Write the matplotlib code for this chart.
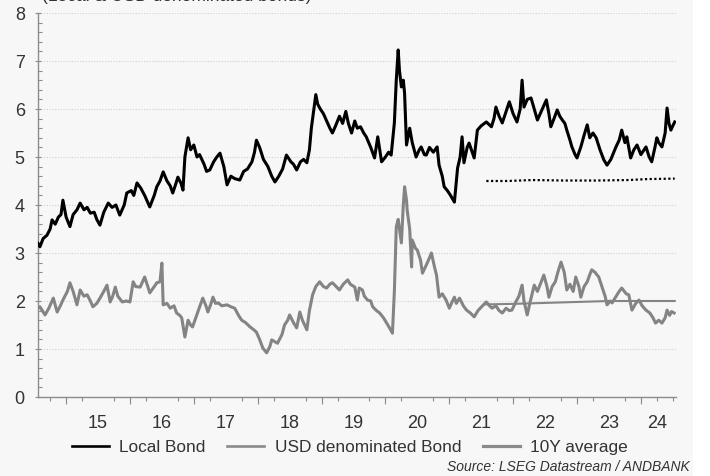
import matplotlib
matplotlib.use("Agg")
import matplotlib.pyplot as plt
from matplotlib.lines import Line2D
from matplotlib.patches import Rectangle

plt.rcParams['font.family'] = ['Liberation Sans', 'DejaVu Sans']

# ---------------- data (decimal years, yield %) ----------------
local_t = [2014.56, 2014.59, 2014.64, 2014.70, 2014.75, 2014.78, 2014.83, 2014.88, 2014.92, 2014.95,
           2015.00, 2015.06, 2015.11, 2015.17, 2015.22, 2015.28, 2015.33, 2015.38, 2015.44, 2015.48,
           2015.53, 2015.59, 2015.66, 2015.72, 2015.78, 2015.84, 2015.91, 2015.95,
           2016.02, 2016.06, 2016.11, 2016.17, 2016.23, 2016.31, 2016.38, 2016.42, 2016.47, 2016.52,
           2016.58, 2016.63, 2016.67, 2016.72, 2016.75, 2016.80, 2016.83, 2016.86, 2016.91, 2016.95,
           2017.00, 2017.05, 2017.09, 2017.16, 2017.20, 2017.25, 2017.31, 2017.36, 2017.41, 2017.47,
           2017.52, 2017.58, 2017.64, 2017.72, 2017.78, 2017.84, 2017.91, 2017.95, 2017.98,
           2018.03, 2018.09, 2018.16, 2018.22, 2018.27, 2018.33, 2018.39, 2018.45, 2018.52, 2018.56,
           2018.61, 2018.67, 2018.72, 2018.77, 2018.81, 2018.84, 2018.88, 2018.91, 2018.94, 2018.98,
           2019.03, 2019.08, 2019.13, 2019.17, 2019.22, 2019.28, 2019.33, 2019.38, 2019.42, 2019.47,
           2019.52, 2019.56, 2019.61, 2019.66, 2019.70, 2019.77, 2019.83, 2019.88, 2019.94,
           2020.00, 2020.05, 2020.09, 2020.14, 2020.17, 2020.20, 2020.22, 2020.25, 2020.28, 2020.30,
           2020.33, 2020.38, 2020.42, 2020.48, 2020.53, 2020.56, 2020.61, 2020.64, 2020.69, 2020.75,
           2020.81, 2020.84, 2020.89, 2020.92, 2020.97,
           2021.02, 2021.08, 2021.13, 2021.17, 2021.20, 2021.23, 2021.28, 2021.31, 2021.36, 2021.39,
           2021.44, 2021.50, 2021.58, 2021.66, 2021.70, 2021.73, 2021.78, 2021.83, 2021.89, 2021.94,
           2022.00, 2022.06, 2022.11, 2022.14, 2022.17, 2022.22, 2022.28, 2022.33, 2022.38, 2022.44,
           2022.52, 2022.56, 2022.59, 2022.64, 2022.69, 2022.73, 2022.77, 2022.81, 2022.84, 2022.89,
           2022.92, 2022.97,
           2023.00, 2023.06, 2023.11, 2023.16, 2023.20, 2023.25, 2023.30, 2023.36, 2023.42, 2023.47,
           2023.53, 2023.61, 2023.66, 2023.70, 2023.75, 2023.78, 2023.84, 2023.89, 2023.94,
           2024.00, 2024.08, 2024.13, 2024.17, 2024.22, 2024.25, 2024.28, 2024.33, 2024.38, 2024.41,
           2024.44, 2024.47, 2024.50, 2024.53]
local_v = [3.20, 3.13, 3.30, 3.37, 3.50, 3.69, 3.60, 3.75, 3.80, 4.10,
           3.75, 3.55, 3.80, 3.90, 4.04, 3.90, 3.95, 3.83, 3.85, 3.70,
           3.58, 3.85, 4.04, 3.95, 4.00, 3.79, 4.00, 4.25,
           4.30, 4.20, 4.46, 4.35, 4.20, 3.96, 4.20, 4.38, 4.50, 4.69,
           4.50, 4.40, 4.25, 4.45, 4.58, 4.45, 4.31, 5.00, 5.40, 5.15,
           5.25, 5.00, 5.05, 4.85, 4.70, 4.73, 4.90, 5.00, 5.08, 4.80,
           4.42, 4.60, 4.55, 4.52, 4.70, 4.75, 4.90, 5.10, 5.35,
           5.20, 4.95, 4.80, 4.60, 4.48, 4.60, 4.75, 5.04, 4.90, 4.85,
           4.73, 4.90, 4.95, 4.88, 5.15, 5.60, 6.00, 6.30, 6.10, 6.00,
           5.90, 5.75, 5.60, 5.50, 5.65, 5.85, 5.70, 5.95, 5.70, 5.50,
           5.75, 5.60, 5.63, 5.50, 5.42, 5.20, 4.98, 5.42, 4.90,
           5.00, 5.10, 5.04, 5.71, 6.60, 7.23, 6.80, 6.46, 6.60, 6.33,
           5.25, 5.60, 5.30, 5.00, 5.15, 5.21, 5.05, 5.04, 5.20, 5.10,
           5.21, 4.83, 4.60, 4.38, 4.30,
           4.20, 4.06, 4.77, 5.00, 5.42, 4.88, 5.20, 5.29, 5.10, 4.98,
           5.56, 5.65, 5.73, 5.63, 5.80, 6.04, 5.85, 5.71, 5.95, 6.15,
           5.90, 5.73, 6.00, 6.60, 6.04, 6.20, 6.23, 6.00, 5.77, 5.95,
           6.19, 5.90, 5.63, 5.80, 5.98, 5.85, 5.77, 5.70, 5.56, 5.35,
           5.21, 5.05,
           4.98, 5.21, 5.45, 5.67, 5.40, 5.50, 5.40, 5.15, 4.94, 4.83,
           4.95, 5.21, 5.35, 5.56, 5.30, 5.42, 4.98, 5.15, 5.25,
           5.05, 5.21, 5.00, 4.90, 5.20, 5.40, 5.30, 5.21, 5.50, 6.02,
           5.70, 5.56, 5.65, 5.73]

usd_t = [2014.56, 2014.59, 2014.67, 2014.73, 2014.80, 2014.86, 2014.91, 2014.95,
         2015.02, 2015.06, 2015.11, 2015.17, 2015.22, 2015.28, 2015.33, 2015.38, 2015.42, 2015.48,
         2015.53, 2015.59, 2015.64, 2015.69, 2015.73, 2015.77, 2015.81, 2015.88, 2015.94,
         2016.00, 2016.05, 2016.09, 2016.16, 2016.23, 2016.28, 2016.31, 2016.38, 2016.42, 2016.47,
         2016.50, 2016.52, 2016.58, 2016.63, 2016.69, 2016.73, 2016.78, 2016.81, 2016.86, 2016.91,
         2016.95, 2016.98,
         2017.03, 2017.06, 2017.11, 2017.14, 2017.19, 2017.22, 2017.27, 2017.30, 2017.34, 2017.38,
         2017.44, 2017.52, 2017.58, 2017.64, 2017.70, 2017.75, 2017.81, 2017.88, 2017.94, 2017.98,
         2018.03, 2018.08, 2018.14, 2018.19, 2018.22, 2018.27, 2018.31, 2018.38, 2018.42, 2018.47,
         2018.50, 2018.56, 2018.61, 2018.66, 2018.70, 2018.77, 2018.81, 2018.86, 2018.91, 2018.97,
         2019.03, 2019.08, 2019.13, 2019.17, 2019.23, 2019.28, 2019.34, 2019.41, 2019.45, 2019.52,
         2019.56, 2019.59, 2019.64, 2019.67, 2019.72, 2019.77, 2019.80, 2019.86, 2019.91, 2019.97,
         2020.02, 2020.06, 2020.11, 2020.14, 2020.17, 2020.20, 2020.23, 2020.25, 2020.28, 2020.30,
         2020.33, 2020.34, 2020.38, 2020.41, 2020.42, 2020.47, 2020.50, 2020.55, 2020.58, 2020.64,
         2020.69, 2020.72, 2020.77, 2020.80, 2020.84, 2020.89, 2020.95,
         2021.00, 2021.05, 2021.08, 2021.11, 2021.16, 2021.22, 2021.27, 2021.33, 2021.39, 2021.45,
         2021.52, 2021.58, 2021.63, 2021.67, 2021.73, 2021.78, 2021.83, 2021.89, 2021.94, 2021.98,
         2022.03, 2022.09, 2022.14, 2022.17, 2022.22, 2022.27, 2022.33, 2022.38, 2022.44, 2022.48,
         2022.53, 2022.56, 2022.61, 2022.66, 2022.70, 2022.75, 2022.80, 2022.84, 2022.89, 2022.94,
         2022.98,
         2023.03, 2023.06, 2023.11, 2023.16, 2023.20, 2023.23, 2023.28, 2023.34, 2023.39, 2023.44,
         2023.47, 2023.52, 2023.55, 2023.59, 2023.66, 2023.70, 2023.77, 2023.81, 2023.86, 2023.92,
         2023.97,
         2024.02, 2024.08, 2024.14, 2024.19, 2024.23, 2024.28, 2024.33, 2024.38, 2024.41, 2024.45,
         2024.48, 2024.52]
usd_v = [1.85, 1.88, 1.71, 1.85, 2.06, 1.77, 1.90, 2.02,
         2.20, 2.38, 2.20, 1.92, 2.23, 2.10, 2.13, 2.00, 1.88, 1.95,
         2.06, 2.20, 2.33, 1.98, 2.10, 2.29, 2.10, 1.98, 2.00,
         1.98, 2.40, 2.30, 2.29, 2.50, 2.30, 2.17, 2.30, 2.38, 2.40,
         2.79, 1.92, 1.95, 1.85, 1.90, 1.75, 1.70, 1.65, 1.25, 1.60,
         1.50, 1.46,
         1.65, 1.77, 1.95, 2.06, 1.90, 1.77, 1.95, 2.08, 1.95, 1.96,
         1.90, 1.92, 1.88, 1.85, 1.70, 1.60, 1.55, 1.46, 1.40, 1.35,
         1.20, 1.02, 0.92, 1.05, 1.19, 1.15, 1.12, 1.30, 1.50, 1.60,
         1.71, 1.55, 1.44, 1.77, 1.60, 1.40, 1.80, 2.13, 2.30, 2.40,
         2.30, 2.27, 2.35, 2.38, 2.30, 2.23, 2.35, 2.44, 2.35, 2.29,
         2.02, 2.27, 2.23, 2.10, 2.02, 2.00, 1.88, 1.80, 1.75, 1.65,
         1.54, 1.45, 1.33, 2.20, 3.54, 3.70, 3.40, 3.21, 4.00, 4.38,
         4.10, 3.90, 3.50, 2.71, 3.27, 3.10, 3.06, 2.85, 2.58, 2.75,
         2.90, 3.00, 2.70, 2.54, 2.08, 2.15, 2.02,
         1.85, 2.00, 2.08, 1.95, 2.06, 1.90, 1.81, 1.75, 1.67, 1.80,
         1.90, 1.98, 1.90, 1.85, 1.90, 1.80, 1.75, 1.85, 1.80, 1.81,
         1.95, 2.10, 2.33, 2.00, 1.71, 2.00, 2.33, 2.20, 2.40, 2.54,
         2.30, 2.08, 2.30, 2.40, 2.60, 2.81, 2.60, 2.23, 2.35, 2.20,
         2.50,
         2.30, 2.08, 2.30, 2.40, 2.55, 2.65, 2.60, 2.50, 2.30, 2.10,
         1.92, 2.00, 1.96, 2.05, 2.20, 2.27, 2.15, 2.13, 1.81, 1.95,
         2.02,
         1.90, 1.81, 1.75, 1.65, 1.54, 1.60, 1.54, 1.65, 1.81, 1.70,
         1.78, 1.75]

local_avg_t = [2021.58, 2021.90, 2022.30, 2022.80, 2023.30, 2023.80, 2024.10, 2024.53]
local_avg_v = [4.50, 4.50, 4.52, 4.51, 4.51, 4.52, 4.54, 4.55]
usd_avg_t = [2021.58, 2022.00, 2022.50, 2023.00, 2023.50, 2024.00, 2024.53]
usd_avg_v = [1.93, 1.94, 1.96, 1.98, 2.00, 2.00, 2.00]

year_labels = ['15', '16', '17', '18', '19', '20', '21', '22', '23', '24']
year_label_pos = [2015.5, 2016.5, 2017.5, 2018.5, 2019.5, 2020.5, 2021.5, 2022.5, 2023.5, 2024.26]
year_bounds = [2015, 2016, 2017, 2018, 2019, 2020, 2021, 2022, 2023, 2024]

legend_labels = ['Local Bond', 'USD denominated Bond', '10Y average']
title_text = '(Local & USD denominated bonds)'
source_text = 'Source: LSEG Datastream / ANDBANK'

# ---------------- figure ----------------
BG = '#f7f7f7'
TXT = '#333333'
AX = '#8c8c8c'
GRAY = '#848484'

fig = plt.figure(figsize=(7.10, 4.76), dpi=100, facecolor=BG)
fig.patches.append(Rectangle((693 / 710, 0), 1 - 693 / 710, 1, transform=fig.transFigure,
                             facecolor='white', edgecolor='none', zorder=-1))
ax = fig.add_axes([38 / 710, 79 / 476, (676 - 38) / 710, (463 - 79) / 476])
ax.set_facecolor(BG)

ax.plot(usd_t, usd_v, color=GRAY, lw=2.2, solid_joinstyle='round', zorder=3)
ax.plot(usd_avg_t, usd_avg_v, color=GRAY, lw=1.5, zorder=3)
ax.plot(local_t, local_v, color='black', lw=2.2, solid_joinstyle='round', zorder=4)
ax.plot(local_avg_t, local_avg_v, color='black', lw=1.6, linestyle=(0, (1, 1.1)), zorder=4)

ax.set_xlim(2014.56, 2024.55)
ax.set_ylim(0, 8)

for s in ['top', 'right']:
    ax.spines[s].set_visible(False)
for s in ['left', 'bottom']:
    ax.spines[s].set_color(AX)
    ax.spines[s].set_linewidth(1.0)

# y ticks
ax.set_yticks(range(0, 9))
ax.set_yticks([i * 0.2 for i in range(41)], minor=True)
ax.tick_params(axis='y', which='major', direction='inout', length=5, width=0.8, color=AX,
               labelsize=13, labelcolor=TXT, pad=7)
ax.tick_params(axis='y', which='minor', direction='in', length=3, width=0.8, color=AX)
ax.grid(axis='y', which='major', color='#cfcfcf', linestyle=(0, (1, 1.5)), linewidth=0.8)

# x ticks: labels at mid-year, quarter minor ticks, year ticks on secondary axis
ax.set_xticks(year_label_pos, year_labels)
quarters = [y + q * 0.25 for y in range(2014, 2025) for q in range(4)]
quarters = [q for q in quarters if 2014.56 < q < 2024.55]
ax.set_xticks(quarters, minor=True)
ax.tick_params(axis='x', which='major', length=0, labelsize=13, labelcolor=TXT, pad=13)
ax.tick_params(axis='x', which='minor', direction='out', length=3, width=0.8, color=AX)
sec = ax.secondary_xaxis('bottom')
sec.set_xticks(year_bounds, [''] * len(year_bounds))
sec.tick_params(axis='x', direction='out', length=5, width=0.8, color=AX)
sec.spines['bottom'].set_visible(False)

# title (cut off at top, as in the reference)
fig.text(42 / 710, 1 - 1.5 / 476, title_text, fontsize=12.5, color=TXT, ha='left', va='baseline')

# legend
handles = [Line2D([], [], color='black', lw=1.9),
           Line2D([], [], color='#8a8a8a', lw=1.9),
           Line2D([], [], color='#8a8a8a', lw=2.3)]
fig.legend(handles, legend_labels, loc='center left', bbox_to_anchor=(72 / 710, 29 / 476),
           ncol=3, frameon=False, fontsize=12.4, handlelength=2.15, handletextpad=0.6,
           columnspacing=1.25, borderpad=0, borderaxespad=0, labelcolor=TXT)

fig.text(690 / 710, 9 / 476, source_text, fontsize=10, style='italic', color=TXT,
         ha='right', va='center')

fig.savefig('out.png', dpi=100, facecolor=BG)
